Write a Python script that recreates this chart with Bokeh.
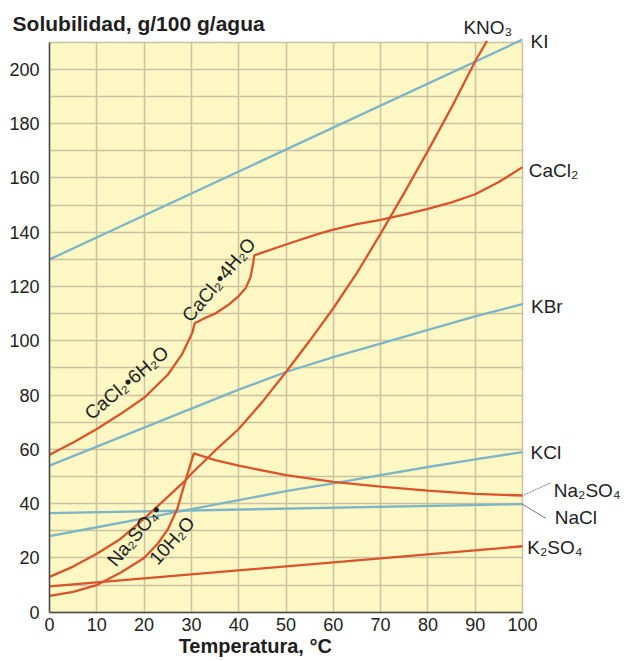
from bokeh.plotting import figure
from bokeh.models import Range1d, FixedTicker, Label, Arrow, BoxAnnotation
from bokeh.embed import file_html
from bokeh.resources import INLINE

# ---- data (temperature °C, solubility g/100 g water) ----
ki_t = [0, 100]
ki_s = [130, 211]

kbr_t = [0, 10, 20, 30, 40, 50, 60, 70, 80, 90, 100]
kbr_s = [54, 61, 68, 75, 82, 88.5, 94, 99, 104, 109, 113.5]

kcl_t = [0, 10, 20, 30, 40, 50, 60, 70, 80, 90, 100]
kcl_s = [28, 31.3, 34.6, 38, 41.3, 44.6, 47.5, 50.5, 53.5, 56.3, 59]

nacl_t = [0, 100]
nacl_s = [36.5, 39.8]

k2so4_t = [0, 100]
k2so4_s = [9.5, 24.3]

kno3_t = [0, 5, 10, 15, 20, 25, 28.4, 30, 35, 40, 45, 50, 55, 60, 65, 70, 75, 80, 85, 90, 92.5]
kno3_s = [13, 16.8, 21.5, 27, 34.5, 42.5, 48, 51, 59.5, 67.5, 77.5, 88.5, 100, 112, 125, 139.5, 154.5, 170, 186, 203, 210.5]

na2so4_t = [0, 5, 10, 15, 20, 23, 25, 27, 28.5, 30.5, 35, 40, 50, 60, 70, 80, 90, 100]
na2so4_s = [6, 7.5, 10, 14.5, 20, 25.5, 30.5, 38, 47, 58.5, 56, 54, 50.5, 48, 46.3, 44.8, 43.6, 43]

cacl2_t = [0, 5, 10, 15, 20, 25, 28, 29.5, 30.2, 30.7, 33, 35, 38, 40, 41.5, 42.5, 43, 43.3,
           44.5, 50, 57, 60, 65, 70, 75, 80, 85, 90, 95, 100]
cacl2_s = [58, 62.5, 67.5, 73, 79, 87.5, 95, 100.5, 103, 106.5, 108.5, 110, 113.5, 116.5, 119.5, 123.5, 128, 131.5,
           132.2, 135.5, 139.5, 141, 143, 144.6, 146.5, 148.6, 151, 154, 158.5, 164]

x_ticks = [0, 10, 20, 30, 40, 50, 60, 70, 80, 90, 100]
y_ticks = [0, 20, 40, 60, 80, 100, 120, 140, 160, 180, 200]
y_grid = list(range(0, 211, 10))
X_MAX, Y_MAX = 100, 210

RED = "#d9542c"
BLUE = "#7db5c6"
FONT = "Liberation Sans"

p = figure(width=623, height=660, title=None,
           x_range=Range1d(-10.36, 121.35), y_range=Range1d(-17.8, 225.4),
           output_backend="svg", toolbar_location=None,
           min_border_left=0, min_border_right=0, min_border_top=0, min_border_bottom=0,
           background_fill_color="white", border_fill_color="white",
           outline_line_color=None)

# yellow plotting box
p.add_layout(BoxAnnotation(left=0, right=X_MAX, bottom=0, top=Y_MAX, level="image",
                           fill_color="#fdf7c4", fill_alpha=1,
                           line_color="#bdbbb0", line_width=1))

p.xaxis.ticker = FixedTicker(ticks=x_ticks)
p.yaxis.ticker = FixedTicker(ticks=y_ticks)
p.xaxis.fixed_location = 0
p.yaxis.fixed_location = 0
p.xaxis.bounds = (0, X_MAX)
p.yaxis.bounds = (0, Y_MAX)

p.xgrid.ticker = FixedTicker(ticks=x_ticks)
p.ygrid.ticker = FixedTicker(ticks=y_grid)
p.xgrid.bounds = (0, X_MAX)
p.ygrid.bounds = (0, Y_MAX)
p.xgrid.cross_bounds = (0, Y_MAX)
p.ygrid.cross_bounds = (0, X_MAX)
for g in (p.xgrid, p.ygrid):
    g.grid_line_color = "#cac3a0"
    g.grid_line_width = 1.5

for ax in (p.xaxis, p.yaxis):
    ax.axis_line_color = "#4a4a4a"
    ax.axis_line_width = 1.5
    ax.major_tick_line_color = None
    ax.minor_tick_line_color = None
    ax.major_tick_out = 0
    ax.major_tick_in = 0
    ax.major_label_text_font = FONT
    ax.major_label_text_font_size = "18px"
    ax.major_label_text_color = "#222222"
p.xaxis.major_label_standoff = 6
p.yaxis.major_label_standoff = 10

lw = 2.3
p.line(ki_t, ki_s, line_color=BLUE, line_width=lw)
p.line(kbr_t, kbr_s, line_color=BLUE, line_width=lw)
p.line(kcl_t, kcl_s, line_color=BLUE, line_width=lw)
p.line(nacl_t, nacl_s, line_color=BLUE, line_width=lw)
p.line(k2so4_t, k2so4_s, line_color=RED, line_width=lw)
p.line(na2so4_t, na2so4_s, line_color=RED, line_width=lw)
p.line(cacl2_t, cacl2_s, line_color=RED, line_width=lw)
p.line(kno3_t, kno3_s, line_color=RED, line_width=lw)

def lab(x, y, text, size="19px", style="normal", angle=0, align="left"):
    p.add_layout(Label(x=x, y=y, text=text, text_font=FONT, text_font_size=size,
                       text_font_style=style, text_color="#1e1e1e", angle=angle,
                       angle_units="deg", text_align=align, text_baseline="middle"))

# titles
lab(-7.8, 216.8, "Solubilidad, g/100 g/agua", size="21px", style="bold")
lab(27.3, -12.6, "Temperatura, °C", size="20px", style="bold")

# curve names at the right
lab(87.5, 215.5, "KNO₃")
lab(101.7, 210.4, "KI")
lab(101.3, 162.7, "CaCl₂")
lab(101.8, 112.6, "KBr")
lab(101.7, 59.0, "KCl")
lab(106.6, 44.8, "Na₂SO₄")
lab(106.8, 34.9, "NaCl")
lab(101.0, 23.9, "K₂SO₄")

# leader lines
p.add_layout(Arrow(end=None, x_start=100.3, y_start=43.2, x_end=105.9, y_end=47.6,
                   line_color="#777777", line_width=1, line_dash="2 1"))
p.add_layout(Arrow(end=None, x_start=99.9, y_start=39.9, x_end=104.9, y_end=34.6,
                   line_color="#777777", line_width=1))

# labels along curves
lab(16.3, 84.5, "CaCl₂•6H₂O", size="19px", angle=40, align="center")
lab(35.8, 122.5, "CaCl₂•4H₂O", size="19px", angle=50, align="center")
lab(18.0, 28.3, "Na₂SO₄•", size="19px", angle=50, align="center")
lab(25.9, 26.4, "10H₂O", size="19px", angle=48, align="center")

open("out.html", "w").write(file_html(p, INLINE))
